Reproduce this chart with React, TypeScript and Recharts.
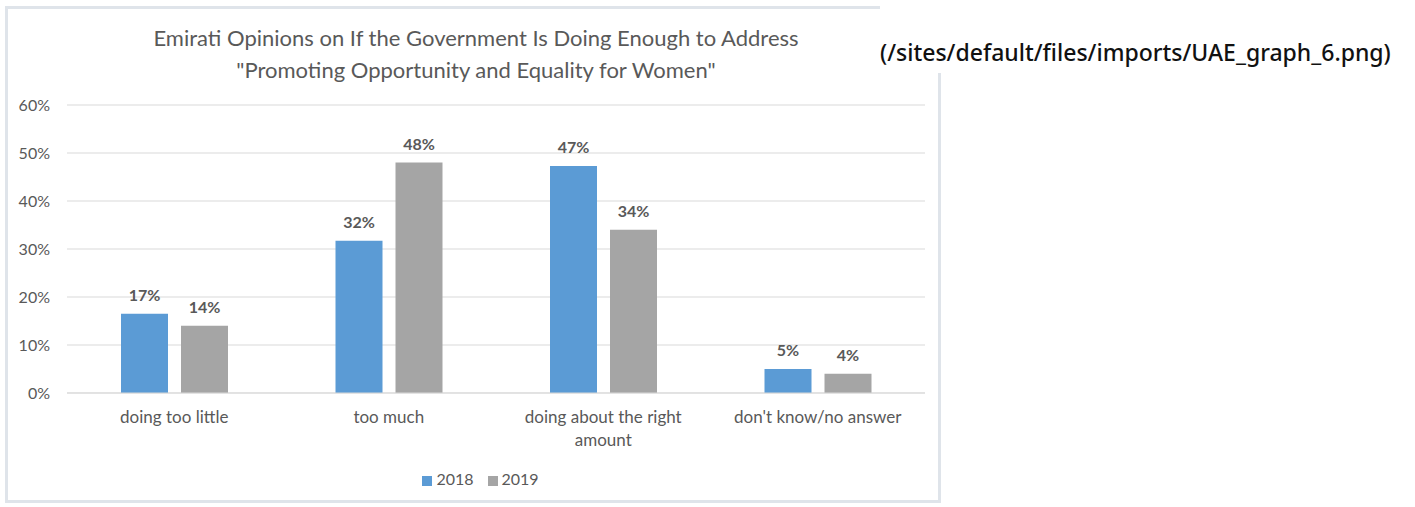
import { BarChart, Bar, XAxis, YAxis, CartesianGrid, Legend, LabelList } from 'recharts'

const FONT = 'Lato, "Open Sans", sans-serif'
const TEXT_COLOR = '#595959'
const GRID_COLOR = '#d9d9d9'

const categories = ['doing too little', 'too much', 'doing about the right amount', "don't know/no answer"]
const values2018 = [16.5, 31.7, 47.3, 5.0]
const values2019 = [14.0, 48.0, 34.0, 4.0]
const yTicks = [0, 10, 20, 30, 40, 50, 60]
const titleLines = [
  'Emirati Opinions on If the Government Is Doing Enough to Address',
  '"Promoting Opportunity and Equality for Women"',
]

const data = categories.map((name, i) => ({ name, y2018: values2018[i], y2019: values2019[i] }))

function wrapLabel(s: string, maxChars: number): string[] {
  const words = s.split(' ')
  const lines: string[] = []
  let cur = ''
  for (const w of words) {
    const next = cur ? cur + ' ' + w : w
    if (next.length > maxChars && cur) {
      lines.push(cur)
      cur = w
    } else cur = next
  }
  if (cur) lines.push(cur)
  return lines
}

function CategoryTick({ x, y, payload }: any) {
  const lines = wrapLabel(String(payload.value), 22)
  return (
    <text x={x} y={y} textAnchor="middle" fill={TEXT_COLOR} fontSize={17} fontFamily={FONT}>
      {lines.map((ln, i) => (
        <tspan key={i} x={x} dy={i === 0 ? 22 : 23}>
          {ln}
        </tspan>
      ))}
    </text>
  )
}

const pct = (v: any) => `${Math.round(Number(v))}%`
const labelStyle = { fontSize: 16, fontWeight: 700, fill: TEXT_COLOR, fontFamily: FONT }

export default function App() {
  return (
    <div style={{ position: 'relative', width: 1415, height: 507, background: '#fff', overflow: 'hidden' }}>
      <style>{`body{margin:0}`}</style>
      {/* picture frame */}
      <div
        style={{
          position: 'absolute',
          left: 5,
          top: 6,
          width: 936,
          height: 497,
          border: '3px solid #dfe4ea',
          boxSizing: 'border-box',
        }}
      />
      <div
        style={{
          position: 'absolute',
          left: 0,
          top: 22,
          width: 952,
          textAlign: 'center',
          fontFamily: FONT,
          fontSize: 22,
          lineHeight: '32px',
          color: TEXT_COLOR,
        }}
      >
        {titleLines.map((t) => (
          <div key={t}>{t}</div>
        ))}
      </div>
      <div style={{ position: 'absolute', left: 0, top: 0 }}>
        <BarChart
          width={960}
          height={507}
          data={data}
          margin={{ top: 105, right: 35, left: 10, bottom: 18 }}
          barGap={13}
        >
          <CartesianGrid vertical={false} stroke={GRID_COLOR} />
          <XAxis
            dataKey="name"
            axisLine={{ stroke: GRID_COLOR }}
            tickLine={false}
            interval={0}
            height={76}
            tick={<CategoryTick />}
          />
          <YAxis
            width={57}
            domain={[0, 60]}
            ticks={yTicks}
            axisLine={false}
            tickLine={false}
            tickMargin={11}
            tickFormatter={(v: number) => `${v}%`}
            tick={{ fontSize: 16, fill: TEXT_COLOR, fontFamily: FONT }}
          />
          <Legend
            verticalAlign="bottom"
            align="center"
            iconType="square"
            iconSize={10}
            wrapperStyle={{ left: 0, width: 975 }}
            formatter={(v: any) => (
              <span style={{ color: TEXT_COLOR, fontSize: 16, fontFamily: FONT, paddingRight: 4 }}>{v}</span>
            )}
          />
          <Bar dataKey="y2018" name="2018" fill="#5b9bd5" barSize={47} isAnimationActive={false}>
            <LabelList dataKey="y2018" position="top" offset={13} formatter={pct} style={labelStyle} />
          </Bar>
          <Bar dataKey="y2019" name="2019" fill="#a5a5a5" barSize={47} isAnimationActive={false}>
            <LabelList dataKey="y2019" position="top" offset={13} formatter={pct} style={labelStyle} />
          </Bar>
        </BarChart>
      </div>
      {/* page caption covering the top-right of the frame */}
      <div
        style={{
          position: 'absolute',
          left: 880,
          top: 0,
          width: 535,
          height: 73,
          background: '#fff',
          fontFamily: '"Noto Sans", "Open Sans", sans-serif',
          fontSize: 23,
          fontWeight: 500,
          color: '#111',
          lineHeight: '20px',
          paddingTop: 42,
          boxSizing: 'border-box',
          whiteSpace: 'nowrap',
        }}
      >
        (/sites/default/files/imports/UAE_graph_6.png)
      </div>
    </div>
  )
}
